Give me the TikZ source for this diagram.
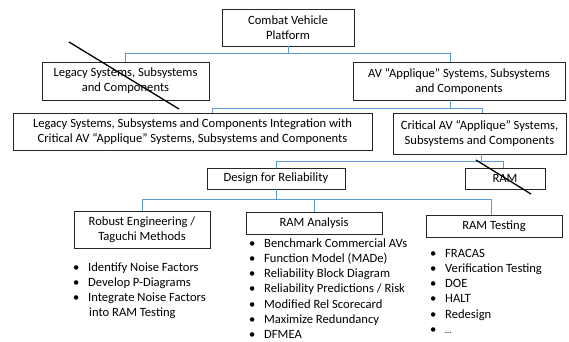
\documentclass[tikz,border=0pt]{standalone}
\usepackage{fontspec}
\setmainfont{Carlito}
\definecolor{linkblue}{RGB}{91,155,213}
\newcommand\chartfont{\fontsize{12.6}{15}\selectfont}
\newcommand\listfont{\fontsize{12.6}{15.3}\selectfont}
\begin{document}
\begin{tikzpicture}[x=1pt,y=-1pt,
  box/.style={draw=black!85, line width=0.9pt, fill=white, inner sep=0pt,
              align=center, font=\chartfont},
  conn/.style={draw=linkblue, line width=1pt},
  strike/.style={draw=black, line width=1.3pt},
  bullets/.style={anchor=base west, inner sep=0pt, font=\listfont}]
\useasboundingbox (0,0) rectangle (569,341);

% boxes of the tree
\node[box, minimum width=132pt, minimum height=37pt] (top) at (288,27.5) {Combat Vehicle\\Platform};
\node[box, minimum width=167pt, minimum height=38pt] (legacy) at (125.5,81) {Legacy Systems, Subsystems\\and Components};
\node[box, minimum width=212pt, minimum height=38pt] (av) at (459,81) {AV “Applique” Systems, Subsystems\\and Components};
\node[box, minimum width=359pt, minimum height=37pt] (integ) at (192.5,131.5) {Legacy Systems, Subsystems and Components Integration with\\Critical AV “Applique” Systems, Subsystems and Components};
\node[box, minimum width=173pt, minimum height=41pt] (crit) at (479.5,133.5) {Critical AV “Applique” Systems,\\Subsystems and Components};
\node[box, minimum width=138pt, minimum height=21pt] (dfr) at (276,178.5) {Design for Reliability};
\node[box, minimum width=80pt, minimum height=21pt] (ram) at (505,178.5) {RAM};
\node[box, minimum width=136pt, minimum height=37pt] (robust) at (142,229.5) {Robust Engineering /\\Taguchi Methods};
\node[box, minimum width=136pt, minimum height=22pt] (rama) at (314,223) {RAM Analysis};
\node[box, minimum width=136pt, minimum height=22pt] (ramt) at (494,226) {RAM Testing};

% bus levels
\coordinate (bus1) at (0,53);
\coordinate (bus2) at (0,108);
\coordinate (bus3) at (0,161);
\coordinate (bus4) at (0,199);

% connectors
\draw[conn] (top.south) -- (top.south |- bus1);
\draw[conn] (legacy.north) |- ([xshift=-9pt]av.north |- bus1) -- ([xshift=-9pt]av.north);
\draw[conn] ([xshift=-9pt]av.south) -- ([xshift=-9pt]av.south |- bus2);
\draw[conn] ([xshift=19.5pt]integ.north) |- ([xshift=2.5pt]crit.north |- bus2) -- ([xshift=2.5pt]crit.north);
\draw[conn] ([xshift=1.5pt]crit.south) -- ([xshift=1.5pt]crit.south |- bus3);
\draw[conn] (dfr.north) |- ([xshift=-2pt]ram.north |- bus3) -- ([xshift=-2pt]ram.north);
\draw[conn] (dfr.south) -- (dfr.south |- bus4);
\draw[conn] (robust.north) |- ([xshift=-3pt]ramt.north |- bus4) -- ([xshift=-3pt]ramt.north);
\draw[conn] (rama.north) -- (rama.north |- bus4);

% crossed-out items
\draw[strike] (69,42) -- (179,109);
\draw[strike] (476,160) -- (531,194);

% bullet lists
\node[bullets] (robustlist) at (73,271) {\begin{tabular}[t]{@{}p{15pt}@{}l@{}}
•& Identify Noise Factors\\
•& Develop P-Diagrams\\
•& Integrate Noise Factors\\
 & \hspace{1pt}into RAM Testing
\end{tabular}};
\node[bullets] (ramalist) at (249,247) {\begin{tabular}[t]{@{}p{15pt}@{}l@{}}
•& Benchmark Commercial AVs\\
•& Function Model (MADe)\\
•& Reliability Block Diagram\\
•& Reliability Predictions / Risk\\
•& Modified Rel Scorecard\\
•& Maximize Redundancy\\
•& DFMEA
\end{tabular}};
\node[bullets] (ramtlist) at (430,257) {\begin{tabular}[t]{@{}p{15pt}@{}l@{}}
•& FRACAS\\
•& Verification Testing\\
•& DOE\\
•& HALT\\
•& Redesign\\
•& {\small …}
\end{tabular}};
\end{tikzpicture}
\end{document}
